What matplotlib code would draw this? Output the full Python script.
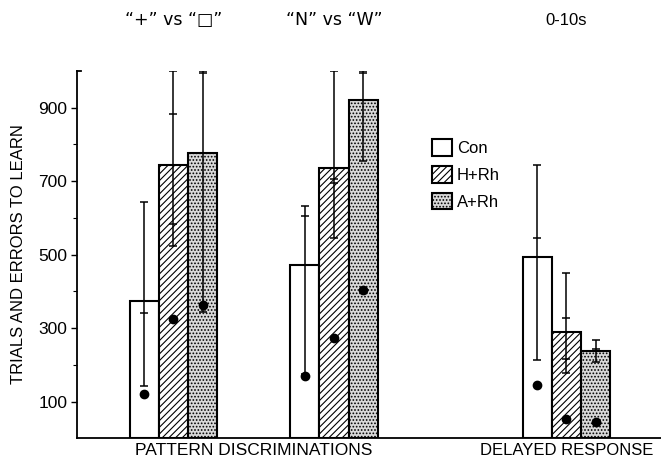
import numpy as np
import matplotlib
matplotlib.use('Agg')
import matplotlib.pyplot as plt
from matplotlib.patches import Patch
from matplotlib.transforms import blended_transform_factory

plt.rcParams['font.family'] = ['Liberation Sans', 'DejaVu Sans']
plt.rcParams['hatch.linewidth'] = 0.8
plt.rcParams['hatch.color'] = 'black'

# data
conditions = ['Con', 'H+Rh', 'A+Rh']
group_titles = ['\u201c+\u201d vs \u201c\u25a1\u201d', '\u201cN\u201d vs \u201cW\u201d', '0-10s']
trials = [[374, 745, 776],
          [473, 735, 922],
          [494, 290, 237]]
errors = [[120, 325, 363],
          [170, 274, 405],
          [145, 53, 44]]
range_low = [[142, 524, 344],
             [175, 544, 755],
             [213, 177, 207]]
range_high = [[644, 1000, 1000],
              [633, 1000, 1000],
              [744, 449, 267]]
se_ticks = [[[342], [583, 884], [365, 993]],
            [[605], [695, 705], [993]],
            [[544], [216, 327], [242]]]

group_x = [3.3, 8.8, 16.76]
offsets = [-1, 0, 1]
styles = [dict(facecolor='white', hatch=None),
          dict(facecolor='white', hatch='/////'),
          dict(facecolor='#d9d9d9', hatch='.....')]

fig = plt.figure(figsize=(6.61, 4.61), dpi=100)
ax = fig.add_axes([0.1165, 0.0492, 0.8835, 0.797])

for g in range(3):
    for c in range(3):
        x = group_x[g] + offsets[c]
        ax.bar(x, trials[g][c], width=1, edgecolor='black', linewidth=1.5,
               zorder=2, **styles[c])
        mid = (range_low[g][c] + range_high[g][c]) / 2
        ax.errorbar(x, mid, yerr=[[mid - range_low[g][c]], [range_high[g][c] - mid]],
                    fmt='none', ecolor='black', elinewidth=1.1, capsize=3,
                    capthick=1.1, zorder=3)
        ax.plot([x] * len(se_ticks[g][c]), se_ticks[g][c], ls='none', marker='_',
                ms=6, mew=1.1, color='black', zorder=3)
        ax.plot(x, errors[g][c], 'o', color='black', ms=6, zorder=4)

ax.set_xlim(0, 20)
ax.set_ylim(0, 1000)
ax.spines['top'].set_visible(False)
ax.spines['right'].set_visible(False)
ax.spines['left'].set_linewidth(1.3)
ax.spines['bottom'].set_linewidth(1.3)
ax.set_xticks([])
ax.set_yticks([100, 300, 500, 700, 900])
ax.set_yticks([200, 400, 600, 800], minor=True)
ax.tick_params(axis='y', which='major', length=4, width=1, labelsize=12.5, pad=3)
ax.tick_params(axis='y', which='minor', length=3, width=0.8)
ax.plot([0, 0.15], [1000, 1000], color='black', lw=1.3, clip_on=False)

trans = blended_transform_factory(ax.transData, ax.transAxes)
title_fonts = [['DejaVu Sans'], ['DejaVu Sans'], ['Liberation Sans']]
title_sizes = [12.5, 12.5, 12]
for g in range(3):
    ax.text(group_x[g], 1.138, group_titles[g], transform=trans, ha='center',
            va='center', fontsize=title_sizes[g], family=title_fonts[g])
ax.text((group_x[0] + group_x[1]) / 2, -0.032, 'PATTERN DISCRIMINATIONS',
        transform=trans, ha='center', va='center', fontsize=12.5)
ax.text(group_x[2], -0.032, 'DELAYED RESPONSE', transform=trans, ha='center',
        va='center', fontsize=12)
fig.text(19 / 661, 0.449, 'TRIALS AND ERRORS TO LEARN', rotation=90,
         ha='center', va='center', fontsize=12)

handles = [Patch(edgecolor='black', linewidth=1.5, **s) for s in styles]
ax.legend(handles, conditions, loc='upper left', bbox_to_anchor=(0.608, 0.814),
          frameon=False, fontsize=12, borderpad=0, borderaxespad=0,
          handlelength=1.2, handleheight=1.14, labelspacing=0.6,
          handletextpad=0.3)

fig.savefig('out.png', dpi=100)
